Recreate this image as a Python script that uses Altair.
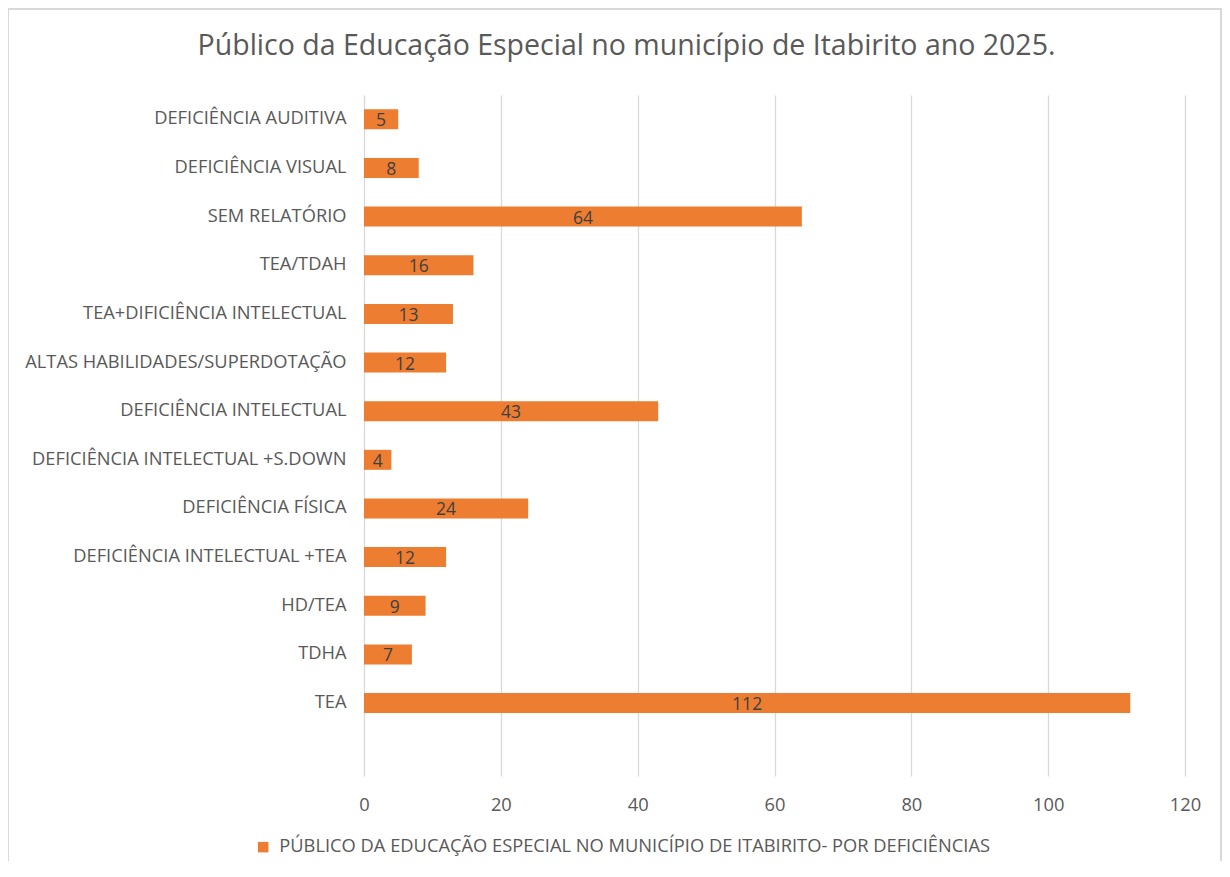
import altair as alt
import pandas as pd

titulo = "Público da Educação Especial no município de Itabirito ano 2025."
serie = "PÚBLICO DA EDUCAÇÃO ESPECIAL NO MUNICÍPIO DE ITABIRITO- POR DEFICIÊNCIAS"

categorias = [
    "DEFICIÊNCIA AUDITIVA",
    "DEFICIÊNCIA VISUAL",
    "SEM RELATÓRIO",
    "TEA/TDAH",
    "TEA+DIFICIÊNCIA INTELECTUAL",
    "ALTAS HABILIDADES/SUPERDOTAÇÃO",
    "DEFICIÊNCIA INTELECTUAL ",
    "DEFICIÊNCIA INTELECTUAL +S.DOWN",
    "DEFICIÊNCIA FÍSICA",
    "DEFICIÊNCIA INTELECTUAL +TEA",
    "HD/TEA",
    "TDHA",
    "TEA",
]
valores = [5, 8, 64, 16, 13, 12, 43, 4, 24, 12, 9, 7, 112]
ticks_x = [0, 20, 40, 60, 80, 100, 120]

df = pd.DataFrame({"categoria": categorias, "valor": valores, "serie": [serie] * len(categorias)})
dominio_y = categorias + [" "]

W, H = 821, 681
FONT = "Open Sans"
GRAY = "#595959"
ORANGE = "#ED7D31"
FS = 18.3

y_enc = alt.Y(
    "categoria:N",
    sort=dominio_y,
    scale=alt.Scale(domain=dominio_y, paddingInner=0.59, paddingOuter=0.295),
    axis=alt.Axis(
        title=None, labelFontSize=FS, labelColor=GRAY, labelPadding=18,
        ticks=False, domain=False, labelFont=FONT, grid=False, labelLimit=400,
    ),
)
x_enc = alt.X(
    "valor:Q",
    scale=alt.Scale(domain=[0, 120], nice=False),
    axis=alt.Axis(
        title=None, values=ticks_x, labelFontSize=FS, labelColor=GRAY,
        labelPadding=20, ticks=False, domain=False, grid=True, labelFlush=False,
        gridColor="#D9D9D9", gridWidth=1.3, labelFont=FONT,
    ),
)

borda = alt.Chart(alt.Data(values=[{"b": 1}])).mark_rect(
    fill="transparent", stroke="#D9D9D9", strokeWidth=2
).encode(
    x=alt.value(-356), x2=alt.value(W + 36), y=alt.value(-86), y2=alt.value(H + 120)
)

barras = alt.Chart(df).mark_bar(size=20).encode(
    x=x_enc,
    y=y_enc,
    color=alt.Color(
        "serie:N",
        scale=alt.Scale(domain=[serie], range=[ORANGE]),
        legend=alt.Legend(
            title=None, orient="none", legendX=-110, legendY=743,
            symbolType="square", symbolSize=110, symbolStrokeWidth=0,
            labelFontSize=FS, labelColor=GRAY, labelFont=FONT, labelLimit=900,
            symbolOffset=0, labelOffset=7,
        ),
    ),
)

rotulos = alt.Chart(df).transform_calculate(
    meio="datum.valor / 2"
).mark_text(fontSize=17.5, color="#404040", font=FONT, dy=2).encode(
    x=alt.X("meio:Q"),
    y=alt.Y("categoria:N", sort=dominio_y),
    text=alt.Text("valor:Q"),
)

chart = alt.layer(borda, barras, rotulos).properties(
    width=W,
    height=H,
    title=alt.TitleParams(
        text=titulo, fontSize=28.5, color=GRAY, font=FONT, fontWeight="normal",
        anchor="middle", dx=-148, offset=-52, frame="group",
    ),
    autosize=alt.AutoSizeParams(type="none"),
    padding={"left": 356, "top": 87, "right": 37, "bottom": 85},
    background="white",
).configure_view(stroke=None)

chart.save("out.html", embed_options={"renderer": "svg", "actions": False})
